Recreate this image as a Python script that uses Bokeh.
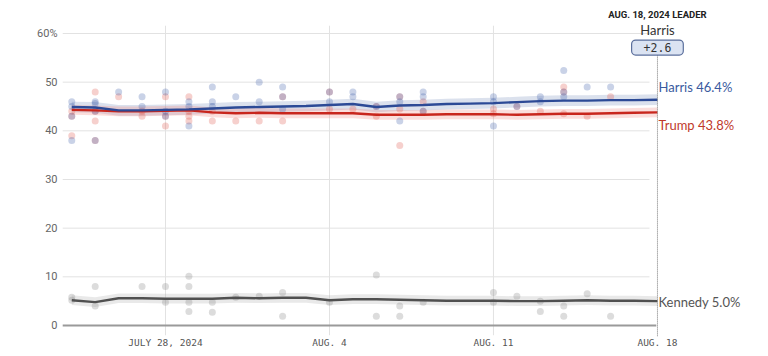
import pandas as pd
from bokeh.plotting import figure
from bokeh.models import Range1d, FixedTicker, Label, ColumnDataSource
from bokeh.core.properties import value
from bokeh.embed import file_html
from bokeh.resources import INLINE

# ---------------- data ----------------
trend_dates = pd.date_range("2024-07-24", "2024-08-18").strftime("%Y-%m-%d").tolist()
harris_trend = [44.9, 44.8, 44.2, 44.2, 44.3, 44.4, 44.6, 44.8, 44.9, 45.0, 45.1, 45.3, 45.5,
                44.9, 45.2, 45.3, 45.5, 45.6, 45.7, 45.9, 46.1, 46.2, 46.2, 46.3, 46.3, 46.4]
trump_trend = [44.3, 44.2, 44.0, 44.0, 44.1, 44.2, 43.8, 43.6, 43.7, 43.6, 43.6, 43.6, 43.6,
               43.3, 43.3, 43.3, 43.4, 43.4, 43.4, 43.3, 43.4, 43.5, 43.5, 43.6, 43.7, 43.8]
kennedy_trend = [5.2, 4.8, 5.6, 5.6, 5.5, 5.5, 5.5, 5.7, 5.6, 5.7, 5.7, 5.2, 5.4,
                 5.4, 5.3, 5.2, 5.1, 5.1, 5.1, 5.0, 5.0, 5.1, 5.2, 5.1, 5.1, 5.0]

harris_poll_dates = ["2024-07-24"] * 4 + ["2024-07-25"] * 4 + ["2024-07-26"] + ["2024-07-27"] * 2 + \
    ["2024-07-28"] * 3 + ["2024-07-29"] * 3 + ["2024-07-30"] * 3 + ["2024-07-31"] + ["2024-08-01"] * 2 + \
    ["2024-08-02"] * 3 + ["2024-08-04"] * 2 + ["2024-08-05"] * 2 + ["2024-08-06"] + ["2024-08-07"] * 3 + \
    ["2024-08-08"] * 3 + ["2024-08-11"] * 3 + ["2024-08-12"] + ["2024-08-13"] * 2 + ["2024-08-14"] * 3 + \
    ["2024-08-15"] + ["2024-08-16"]
harris_poll_values = [46, 45, 43, 38, 46, 45.6, 44, 38, 48, 47, 45, 48, 43, 44, 46, 45, 41, 49, 46, 45,
                      47, 50, 46, 49, 47, 44.5, 48, 46, 48, 47, 45, 47, 46, 42, 48, 47, 44, 47, 46, 41,
                      45, 47, 46, 52.4, 48, 47, 49, 49]

trump_poll_dates = ["2024-07-24"] * 3 + ["2024-07-25"] * 4 + ["2024-07-26"] + ["2024-07-27"] * 2 + \
    ["2024-07-28"] * 3 + ["2024-07-29"] * 4 + ["2024-07-30"] * 2 + ["2024-07-31"] + ["2024-08-01"] + \
    ["2024-08-02"] * 2 + ["2024-08-04"] * 2 + ["2024-08-05"] + ["2024-08-06"] * 2 + ["2024-08-07"] * 3 + \
    ["2024-08-08"] * 2 + ["2024-08-11"] * 2 + ["2024-08-12"] + ["2024-08-13"] + ["2024-08-14"] * 3 + \
    ["2024-08-15"] + ["2024-08-16"]
trump_poll_values = [44, 43, 39, 48, 44, 42, 38, 47, 44, 43, 47, 43, 41, 47, 44, 43, 42, 44, 42, 42, 42,
                     47, 42, 48, 44.5, 44.5, 45, 43, 47, 44.5, 37, 46, 44, 44.5, 43.5, 45, 44,
                     49, 48, 43.5, 43, 47]

kennedy_poll_dates = ["2024-07-24"] * 2 + ["2024-07-25"] * 2 + ["2024-07-27"] + ["2024-07-28"] * 2 + \
    ["2024-07-29"] * 4 + ["2024-07-30"] * 2 + ["2024-07-31"] + ["2024-08-01"] + ["2024-08-02"] * 2 + \
    ["2024-08-04"] + ["2024-08-06"] * 2 + ["2024-08-07"] * 2 + ["2024-08-08"] + ["2024-08-11"] * 2 + \
    ["2024-08-12"] + ["2024-08-13"] * 2 + ["2024-08-14"] * 2 + ["2024-08-15"] + ["2024-08-16"]
kennedy_poll_values = [5.8, 5.2, 8, 4, 8, 8, 4.8, 10.1, 8, 4.8, 2.9, 4.8, 2.7, 5.8, 6, 6.8, 1.9, 4.8,
                       10.4, 1.9, 4, 1.9, 4.8, 6.8, 4.8, 6, 5, 2.9, 4, 1.9, 6.5, 1.9]

candidates = ["Harris", "Trump", "Kennedy"]
final_values = [46.4, 43.8, 5.0]
leader_date = "2024-08-18"
leader_name = "Harris"
leader_margin = "+2.6"
y_ticks = [0, 10, 20, 30, 40, 50, 60]
x_tick_dates = ["2024-07-28", "2024-08-04", "2024-08-11", "2024-08-18"]
x_tick_labels = ["JULY 28, 2024", "AUG. 4", "AUG. 11", "AUG. 18"]

# ---------------- helpers ----------------
BASE = pd.Timestamp("2024-07-28")


def days(ds):
    return [(pd.Timestamp(d) - BASE).days for d in ds]


tx = days(trend_dates)
lead_x = days([leader_date])[0]

# ---------------- figure ----------------
p = figure(width=768, height=356, output_backend="svg", toolbar_location=None,
           x_range=Range1d(-4.396, 25.74), y_range=Range1d(-2.26, 66.78),
           min_border_left=62, min_border_right=0, min_border_top=0, min_border_bottom=20)
p.outline_line_color = None
p.grid.visible = False
p.background_fill_color = "white"
p.border_fill_color = "white"

# gridlines (drawn as segments so they stop before the labels)
grid_x0, grid_x1 = -4.4, 20.66
p.segment(x0=[grid_x0] * 6, y0=y_ticks[1:], x1=[grid_x1] * 6, y1=y_ticks[1:],
          line_color="#e2e2e2", line_width=1)
vt = days(x_tick_dates[:3])
p.segment(x0=vt, y0=[-2] * 3, x1=vt, y1=[61.6] * 3, line_color="#e2e2e2", line_width=1)
p.segment(x0=[grid_x0], y0=[0], x1=[lead_x - 0.05], y1=[0], line_color="#9a9a9a", line_width=2)

# bands
band_style = [("#7f93bd", 0.28, 1.1), ("#f08a80", 0.28, 1.0), ("#a8a8a8", 0.25, 1.0)]
for tr, (c, a, m) in zip([harris_trend, trump_trend, kennedy_trend], band_style):
    p.varea(x=tx, y1=[v - m for v in tr], y2=[v + m for v in tr], fill_color=c, fill_alpha=a)

# poll dots
p.scatter(days(kennedy_poll_dates), kennedy_poll_values, size=7, fill_color="#8a8a8a",
          fill_alpha=0.3, line_color=None)
p.scatter(days(trump_poll_dates), trump_poll_values, size=7, fill_color="#e0554a",
          fill_alpha=0.28, line_color=None)
p.scatter(days(harris_poll_dates), harris_poll_values, size=7, fill_color="#3d5ea8",
          fill_alpha=0.28, line_color=None)

# trend lines
p.line(tx, kennedy_trend, line_color="#505050", line_width=2.4)
p.line(tx, trump_trend, line_color="#c8261d", line_width=2.4)
p.line(tx, harris_trend, line_color="#2c4a96", line_width=2.4)

# leader marker
p.segment(x0=[lead_x], y0=[55.5], x1=[lead_x], y1=[-4.5], line_color="#777777",
          line_width=1, line_dash="1 1")

# end labels
label_y = [49.1, 41.3, 4.9]
label_colors = ["#3a5a9e", "#c0392b", "#555555"]
src = ColumnDataSource(dict(x=[lead_x] * 3, y=label_y,
                            text=[f"{c} {v:.1f}%" for c, v in zip(candidates, final_values)],
                            color=label_colors))
p.text(x="x", y="y", text="text", text_color="color", source=src, x_offset=1,
       text_font=value("Lato"), text_font_size="13px", text_align="left", text_baseline="middle")

p.add_layout(Label(x=lead_x, y=63.9, text="AUG. 18, 2024 LEADER", text_align="center",
                   text_baseline="middle", text_font="Roboto", text_font_size="9.5px",
                   text_font_style="bold", text_color="#222222"))
p.add_layout(Label(x=lead_x, y=60.8, text=leader_name, text_align="center",
                   text_baseline="middle", text_font="Lato", text_font_size="13px",
                   text_color="#333333"))
p.add_layout(Label(x=lead_x, y=57.1, text=leader_margin, text_align="center",
                   text_baseline="middle", text_font="DejaVu Sans Mono", text_font_size="11.5px",
                   text_color="#333333", background_fill_color="#dbe3f2",
                   border_line_color="#5b6f9c", border_line_width=1.2,
                   padding=(12, 3), border_radius=4))

# axes
xa = p.xaxis[0]
xa.ticker = FixedTicker(ticks=days(x_tick_dates))
xa.major_label_overrides = {t: l for t, l in zip(days(x_tick_dates), x_tick_labels)}
xa.axis_line_color = None
xa.major_tick_line_color = None
xa.minor_tick_line_color = None
xa.major_tick_out = 0
xa.major_tick_in = 0
xa.major_label_standoff = 0
xa.major_label_text_font = "DejaVu Sans Mono"
xa.major_label_text_font_size = "9.5px"
xa.major_label_text_color = "#555555"

ya = p.yaxis[0]
ya.ticker = FixedTicker(ticks=y_ticks)
ya.major_label_overrides = {60: "60%"}
ya.axis_line_color = None
ya.major_tick_line_color = None
ya.minor_tick_line_color = None
ya.major_tick_out = 0
ya.major_tick_in = 0
ya.major_label_standoff = 5
ya.major_label_text_font = "Roboto"
ya.major_label_text_font_size = "11px"
ya.major_label_text_color = "#666666"

open("out.html", "w").write(file_html(p, INLINE))
